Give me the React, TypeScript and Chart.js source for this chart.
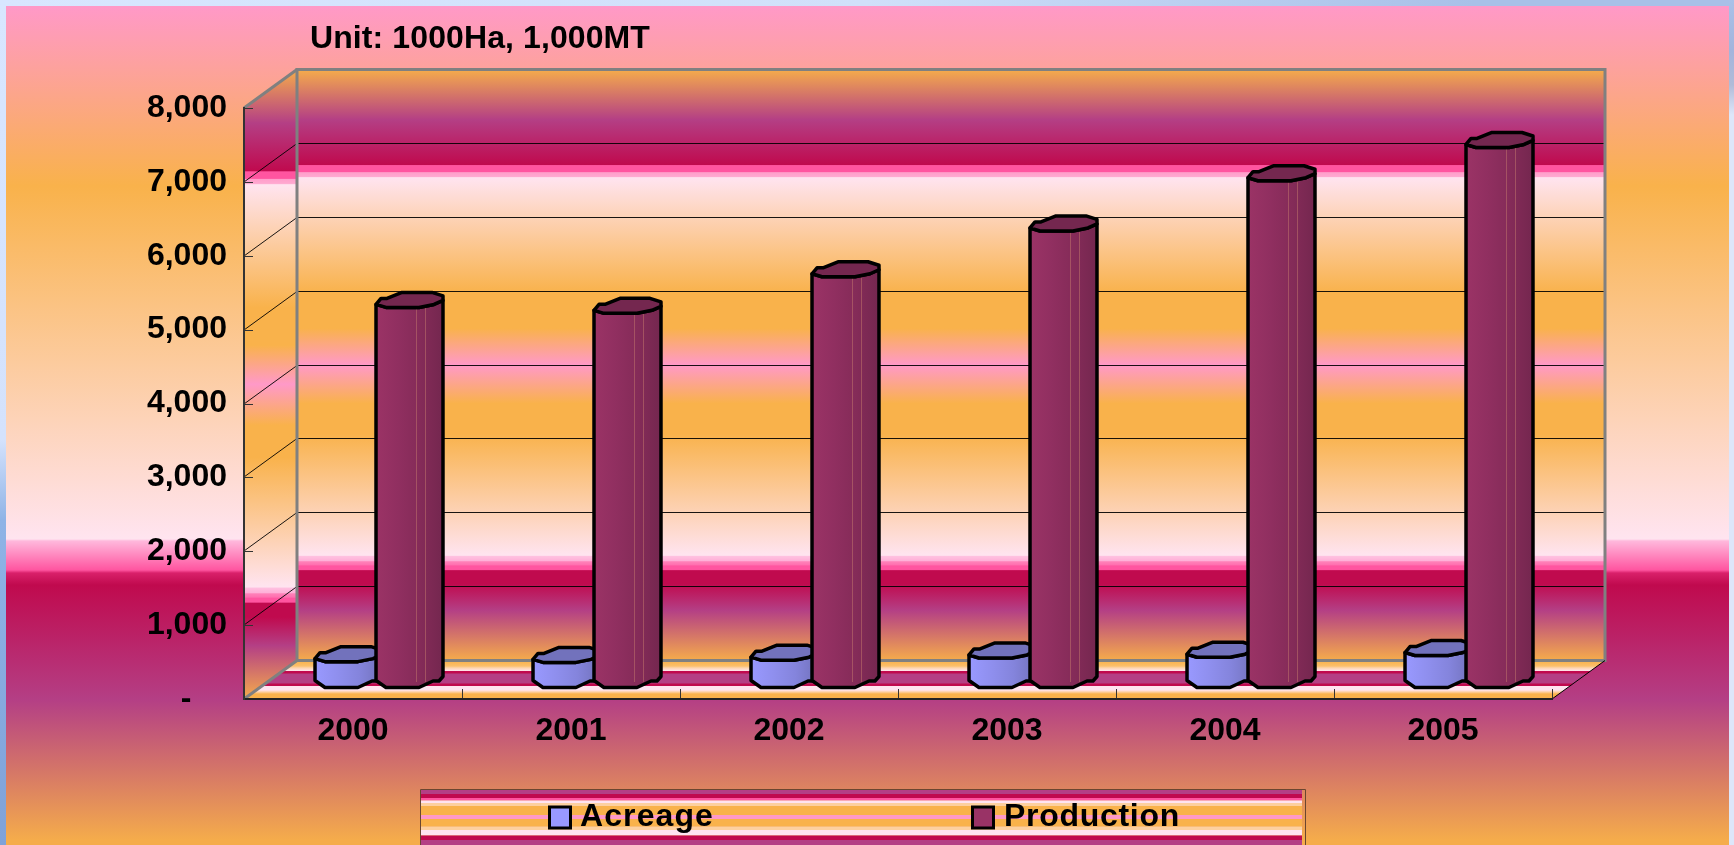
import React, { useEffect, useRef } from "react";
import { Chart, registerables, BarElement } from "chart.js";

const categories = ["2000", "2001", "2002", "2003", "2004", "2005"];
const acreage = [350, 340, 370, 400, 410, 433];
const production = [5145, 5065, 5560, 6180, 6860, 7310];
const titleText = "Unit: 1000Ha, 1,000MT";

const FONT = "'Liberation Sans', Arial, sans-serif";
const DEPTH_X = 53;
const DEPTH_Y = -38.5;
const BAR_DX = 26;
const BAR_DY = -19;

const ORANGE = "#F9B24B";
const END_ORANGE = "#F5AC4B";
const PURPLE = "#B43F85";
const CRIMSON = "#C00A4E";
const HOT = "#FF55A0";
const PALE = "#FFE4F0";
const PINK = "#FF99C8";

type Stops = [number, string][];
const wallStops: Stops = [
  [0, END_ORANGE], [0.085, PURPLE], [0.161, CRIMSON], [0.1625, HOT], [0.173, HOT], [0.1745, "#FF9FCB"], [0.181, "#FFA8D0"], [0.183, PALE],
  [0.378, ORANGE], [0.438, ORANGE], [0.5, PINK], [0.565, ORANGE], [0.616, ORANGE],
  [0.822, PALE], [0.824, "#FFC0E0"], [0.831, "#FFB0D8"], [0.833, "#FF80B8"], [0.838, "#FF70B0"], [0.84, HOT], [0.846, HOT], [0.848, CRIMSON], [0.87, CRIMSON], [0.915, PURPLE], [1, END_ORANGE],
];
const panelStops: Stops = [
  [6, PINK], [186, ORANGE], [539, PALE], [541, "#FFB8DC"], [570, HOT], [573, "#D9206A"], [585, CRIMSON], [700, PURPLE], [840, END_ORANGE], [845, END_ORANGE],
];
const floorStops: Stops = [
  [661, ORANGE], [666, "#FBBF6B"], [668, "#FDD5B0"], [671, PALE], [671.5, CRIMSON], [673, CRIMSON], [674, PURPLE], [683, PURPLE], [684, CRIMSON], [686, CRIMSON],
  [686.5, PALE], [690, PALE], [692, "#FDD0A0"], [694, ORANGE], [699, ORANGE],
];
const legendBands: [number, number, string][] = [
  [790, 794, PURPLE], [794, 798, CRIMSON], [798, 800.5, HOT], [800.5, 803, PALE], [803, 806, "#FDD0A0"], [806, 815, ORANGE], [815, 819, PINK],
  [819, 826.5, ORANGE], [826.5, 830, "#FDD0A0"], [830, 835.5, PALE], [835.5, 840, CRIMSON], [840, 845, PURPLE],
];

function grad(ctx: CanvasRenderingContext2D, y0: number, y1: number, stops: Stops) {
  const g = ctx.createLinearGradient(0, y0, 0, y1);
  stops.forEach(([f, c]) => g.addColorStop(f, c));
  return g;
}
function absGrad(ctx: CanvasRenderingContext2D, stops: Stops) {
  const y0 = stops[0][0];
  const y1 = stops[stops.length - 1][0];
  return grad(ctx, y0, y1, stops.map(([y, c]) => [(y - y0) / (y1 - y0), c] as [number, string]));
}

const shades: Record<string, { body: string[]; cap: string }> = {
  "#9999FF": { body: ["#9999FF", "#8F8FEE", "#8484DC", "#7272BC"], cap: "#7272BC" },
  "#993366": { body: ["#9B3366", "#902F60", "#842B58", "#74274F"], cap: "#74274F" },
};

class CylinderBar extends BarElement {
  static id = "cylinderBar";
  draw(ctx: CanvasRenderingContext2D) {
    const { x, y, base, width } = (this as any).getProps(["x", "y", "base", "width"], true);
    const o = (this as any).options;
    const s = shades[o.backgroundColor] || shades["#993366"];
    const L = x - width / 2 + BAR_DX;
    const k = width / 67;
    const cy = y + BAR_DY;
    const cb = base + BAR_DY;
    const P = (px: number, py: number) => [L + px * k, py] as [number, number];
    const body: [number, number][] = [
      P(0, cy + 4.5), P(10, cy + 7.5), P(43, cy + 7.5), P(58, cy + 4.5), P(67, cy + 0.5),
      P(67, cb - 3.5), P(63, cb + 1), P(57, cb + 1), P(43, cb + 7.5), P(10, cb + 7.5), P(0, cb + 0.5),
    ];
    const cap: [number, number][] = [
      P(0, cy + 4.5), P(5, cy - 1.5), P(11, cy - 1.5), P(26, cy - 7.5), P(56, cy - 7.5), P(67, cy - 4),
      P(67, cy + 0.5), P(58, cy + 4.5), P(43, cy + 7.5), P(10, cy + 7.5),
    ];
    const trace = (pts: [number, number][]) => {
      ctx.beginPath();
      pts.forEach(([a, b], i) => (i ? ctx.lineTo(a, b) : ctx.moveTo(a, b)));
      ctx.closePath();
    };
    ctx.save();
    ctx.lineJoin = "round";
    const g = ctx.createLinearGradient(L, 0, L + width, 0);
    s.body.forEach((c, i) => g.addColorStop(i / (s.body.length - 1), c));
    trace(body);
    ctx.fillStyle = g;
    ctx.fill();
    const idx = (this as any).$context?.dataIndex ?? 0;
    if (idx < 5 && o.backgroundColor === "#993366") {
      ctx.strokeStyle = "rgba(205,130,110,0.45)";
      ctx.lineWidth = 1;
      [0.6, 0.73].forEach((f) => {
        ctx.beginPath();
        ctx.moveTo(Math.round(L + width * f) + 0.5, cy + 8);
        ctx.lineTo(Math.round(L + width * f) + 0.5, cb + 2);
        ctx.stroke();
      });
    }
    ctx.strokeStyle = "#000";
    ctx.lineWidth = 3.5;
    trace(body);
    ctx.stroke();
    trace(cap);
    ctx.fillStyle = s.cap;
    ctx.fill();
    ctx.stroke();
    ctx.restore();
  }
}

const scenePlugin = {
  id: "scene",
  beforeDraw(chart: any) {
    const { ctx, chartArea: a, scales } = chart;
    const W = chart.width;
    const H = chart.height;
    const { left: xL, right: xR, top, bottom } = a;
    const backTop = top + DEPTH_Y;
    const backBottom = bottom + DEPTH_Y;
    const bL = xL + DEPTH_X;
    const bR = xR + DEPTH_X;
    ctx.save();
    // window strips
    ctx.fillStyle = "#DCE7FB";
    ctx.fillRect(0, 0, W, H);
    const top1 = ctx.createLinearGradient(0, 0, W, 0);
    top1.addColorStop(0, "#D8E6FF");
    top1.addColorStop(0.5, "#D0E0FA");
    top1.addColorStop(0.85, "#A8C0E8");
    top1.addColorStop(1, "#A8C0E8");
    ctx.fillStyle = top1;
    ctx.fillRect(0, 0, W, 6);
    ctx.fillStyle = absGrad(ctx, [[0, "#D8E6FF"], [440, "#D4E2FC"], [520, "#8FB3E6"], [845, "#7FA2D8"]]);
    ctx.fillRect(0, 0, 6, H);
    ctx.fillStyle = absGrad(ctx, [[0, "#A9C1E8"], [50, "#A3B4DC"], [85, "#B0BBD8"], [115, "#DDE6FA"], [845, "#DDE6FA"]]);
    ctx.fillRect(1729, 0, W - 1729, H);
    // panel
    ctx.fillStyle = absGrad(ctx, panelStops);
    ctx.fillRect(6, 6, 1723, H - 6);
    // floor
    ctx.fillStyle = absGrad(ctx, floorStops);
    ctx.beginPath();
    ctx.moveTo(xL, bottom);
    ctx.lineTo(xR, bottom);
    ctx.lineTo(bR, backBottom);
    ctx.lineTo(bL, backBottom);
    ctx.closePath();
    ctx.fill();
    // back wall
    ctx.fillStyle = grad(ctx, backTop, backBottom, wallStops);
    ctx.fillRect(bL, backTop, bR - bL, backBottom - backTop);
    // side wall
    ctx.fillStyle = grad(ctx, backTop, bottom, wallStops);
    ctx.beginPath();
    ctx.moveTo(xL, top);
    ctx.lineTo(bL, backTop);
    ctx.lineTo(bL, backBottom);
    ctx.lineTo(xL, bottom);
    ctx.closePath();
    ctx.fill();
    // gridlines
    ctx.strokeStyle = "rgba(0,0,0,0.9)";
    ctx.lineWidth = 1;
    scales.y.ticks.forEach((t: any) => {
      if (t.value === 0 || t.value === 8000) return;
      const y = Math.round(scales.y.getPixelForValue(t.value));
      ctx.beginPath();
      ctx.moveTo(xL, y);
      ctx.lineTo(bL, y + DEPTH_Y);
      ctx.lineTo(bR, y + DEPTH_Y);
      ctx.stroke();
    });
    // wall edges
    ctx.strokeStyle = "#808080";
    ctx.lineWidth = 3;
    ctx.strokeRect(bL, backTop, bR - bL, backBottom - backTop);
    ctx.beginPath();
    ctx.moveTo(xL, top);
    ctx.lineTo(bL, backTop);
    ctx.moveTo(xL, bottom);
    ctx.lineTo(bL, backBottom);
    ctx.stroke();
    ctx.strokeStyle = "#000";
    ctx.lineWidth = 1;
    ctx.beginPath();
    ctx.moveTo(xR, bottom);
    ctx.lineTo(bR, backBottom);
    ctx.stroke();
    // axis ticks on the front plane
    ctx.strokeStyle = "#333";
    ctx.beginPath();
    scales.y.ticks.forEach((t: any) => {
      const y = Math.round(scales.y.getPixelForValue(t.value)) + 0.5;
      ctx.moveTo(xL, y);
      ctx.lineTo(xL + 9, y);
    });
    const step = (xR - xL) / categories.length;
    categories.forEach((_, i) => {
      const x = Math.round(scales.x.getPixelForValue(i) + step / 2) + 0.5;
      ctx.moveTo(x, bottom);
      ctx.lineTo(x, bottom - 10);
    });
    ctx.stroke();
    ctx.restore();
  },
  beforeDatasetsDraw(chart: any) {
    // Acreage behind, Production in front
    chart.getSortedVisibleDatasetMetas().forEach((m: any) => m.controller.draw());
    return false;
  },
  afterDraw(chart: any) {
    const { ctx } = chart;
    ctx.save();
    // title
    ctx.font = `bold 32px ${FONT}`;
    ctx.fillStyle = "#000";
    ctx.textBaseline = "alphabetic";
    (ctx as any).letterSpacing = "0.1px";
    ctx.fillText(titleText, 310, 48);
    // legend box
    legendBands.forEach(([y0, y1, c]) => {
      ctx.fillStyle = c;
      ctx.fillRect(421, y0, 881, y1 - y0);
    });
    ctx.strokeStyle = "#6B4630";
    ctx.lineWidth = 1;
    ctx.beginPath();
    ctx.moveTo(420.5, 845);
    ctx.lineTo(420.5, 789.5);
    ctx.lineTo(1305.5, 789.5);
    ctx.lineTo(1305.5, 845);
    ctx.stroke();
    const entries = [
      { sx: 549.5, tx: 580, gap: "1.1px" },
      { sx: 972.5, tx: 1004, gap: "0.7px" },
    ];
    chart.data.datasets.forEach((d: any, i: number) => {
      const e = entries[i];
      ctx.fillStyle = d.backgroundColor;
      ctx.strokeStyle = "#000";
      ctx.lineWidth = 3;
      ctx.fillRect(e.sx, 807, 21, 21);
      ctx.strokeRect(e.sx, 807, 21, 21);
      ctx.fillStyle = "#000";
      ctx.font = `bold 32px ${FONT}`;
      (ctx as any).letterSpacing = e.gap;
      ctx.fillText(d.label, e.tx, 826);
      (ctx as any).letterSpacing = "0px";
    });
    ctx.restore();
  },
};

Chart.register(...registerables, CylinderBar as any);
(Chart.defaults as any).datasets.bar.dataElementType = "cylinderBar";

export default function App() {
  const ref = useRef<HTMLCanvasElement>(null);
  useEffect(() => {
    document.body.style.margin = "0";
    const chart = new Chart(ref.current as HTMLCanvasElement, {
      type: "bar",
      data: {
        labels: categories,
        datasets: [
          { label: "Acreage", data: acreage, backgroundColor: "#9999FF", borderColor: "#000", categoryPercentage: 0.5596, barPercentage: 1.098 },
          { label: "Production", data: production, backgroundColor: "#993366", borderColor: "#000", categoryPercentage: 0.5596, barPercentage: 1.098 },
        ],
      },
      options: {
        animation: false,
        responsive: false,
        maintainAspectRatio: false,
        events: [],
        layout: { padding: { top: 108, right: 182, left: 0, bottom: 0 } },
        plugins: { legend: { display: false }, title: { display: false }, tooltip: { enabled: false } },
        scales: {
          x: {
            grid: { display: false },
            border: { display: true, color: "#222", width: 2 },
            ticks: { color: "#000", padding: 5, maxRotation: 0, autoSkip: false, font: { family: FONT, size: 32, weight: "bold" } },
            afterFit(s: any) { s.height = 146; },
          },
          y: {
            min: 0,
            max: 8000,
            grid: { display: false },
            border: { display: true, color: "#333", width: 2 },
            ticks: {
              stepSize: 1000,
              color: "#000",
              padding: 9,
              font: { family: FONT, size: 32, weight: "bold" },
              callback: (v: any) => (v === 0 ? "-    " : Number(v).toLocaleString("en-US")),
            },
            afterFit(s: any) { s.width = 244; },
          },
        },
      } as any,
      plugins: [scenePlugin as any],
    });
    return () => chart.destroy();
  }, []);
  return (
    <div style={{ position: "fixed", left: 0, top: 0, width: 1734, height: 845, overflow: "hidden" }}>
      <canvas ref={ref} width={1734} height={845} style={{ display: "block" }} />
    </div>
  );
}
